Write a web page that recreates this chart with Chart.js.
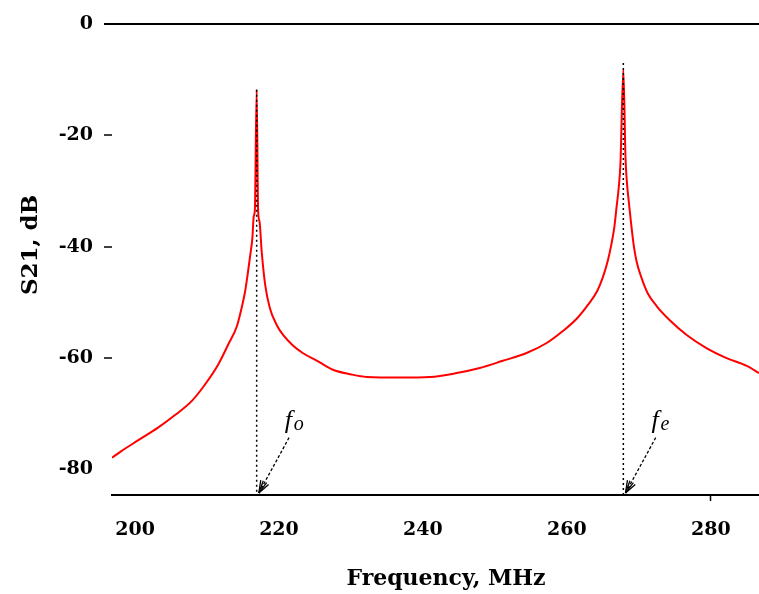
<!DOCTYPE html>
<html>
<head>
<meta charset="utf-8">
<script src="https://cdn.jsdelivr.net/npm/chart.js@4.4.0/dist/chart.umd.min.js"></script>
<style>
  html, body { margin: 0; padding: 0; background: #fff; }
  #wrap { width: 759px; height: 594px; position: relative; }
</style>
</head>
<body>
<div id="wrap"><canvas id="chart"></canvas></div>
<script>
// S21 transmission
const freqMHz = [196.8, 198.0, 200.4, 203.2, 205.6, 207.9, 209.7, 211.5, 212.9, 214.2,
    214.9, 215.3, 215.7, 216.0, 216.3, 216.5, 216.65, 216.9, 217.1, 217.3,
    217.6, 218.1, 218.75, 219.7, 220.6, 221.9, 223.3, 225.3, 227.5, 229.9,
    232.2, 236.8, 241.0, 244.7, 247.9, 251.1, 254.4, 257.2, 259.4, 261.4,
    262.9, 264.2, 265.0, 265.7, 266.2, 266.6, 266.9, 267.2, 267.45, 267.85,
    268.15, 268.35, 268.6, 268.9, 269.3, 269.7, 270.4, 271.25, 272.5, 274.3,
    276.7, 279.4, 282.2, 285.0, 286.7];
const s21dB = [-77.9, -76.8, -74.8, -72.5, -70.2, -67.7, -64.8, -61.3, -57.7, -54.1,
    -50.5, -48.0, -44.5, -41.6, -38.5, -34.5, -33.5, -11.8, -33.5, -35.5,
    -40.9, -47.0, -51.1, -54.1, -55.9, -57.7, -59.1, -60.5, -62.1, -62.9,
    -63.4, -63.5, -63.4, -62.7, -61.8, -60.5, -59.1, -57.3, -55.2, -52.9,
    -50.5, -48.0, -45.5, -42.5, -39.5, -36.5, -33.0, -29.5, -25.0, -8.2,
    -24.0, -28.5, -31.8, -35.5, -39.8, -42.7, -45.7, -48.4, -50.7, -53.2,
    -55.9, -58.2, -60.0, -61.4, -62.7];

const xTicks = [200, 220, 240, 260, 280];
const yTicks = [0, -20, -40, -60, -80];

// odd / even mode resonances
const resFreqs = [216.9, 267.85];
const resTops = [-11.8, -7.0];
const resLabels = ["o", "e"];

const tickFont = { family: "'DejaVu Serif'", size: 19, weight: "bold" };

const markers = {
    id: "markers",
    afterDatasetsDraw(chart) {
        const { ctx, chartArea, scales: { x, y } } = chart;
        ctx.save();
        resFreqs.forEach((f, i) => {
            const px = x.getPixelForValue(f);
            // dotted drop line
            ctx.strokeStyle = "#000";
            ctx.lineWidth = 1.5;
            ctx.setLineDash([2, 3]);
            ctx.beginPath();
            ctx.moveTo(px, y.getPixelForValue(resTops[i]));
            ctx.lineTo(px, chartArea.bottom);
            ctx.stroke();

            // arrow from label down to the axis
            const x0 = x.getPixelForValue(f + 4.5), y0 = y.getPixelForValue(-74.3);
            const x1 = x.getPixelForValue(f + 0.3), y1 = chartArea.bottom - 2;
            ctx.setLineDash([3, 2]);
            ctx.lineWidth = 1.3;
            ctx.beginPath();
            ctx.moveTo(x0, y0);
            ctx.lineTo(x1, y1);
            ctx.stroke();
            ctx.setLineDash([]);
            const ang = Math.atan2(y1 - y0, x1 - x0);
            [-0.35, -0.15, 0.15, 0.35].forEach((d) => {
                ctx.beginPath();
                ctx.moveTo(x1, y1);
                ctx.lineTo(x1 - 13 * Math.cos(ang + d), y1 - 13 * Math.sin(ang + d));
                ctx.stroke();
            });

            // f_o / f_e label
            const lx = x.getPixelForValue(f + 3.9), ly = y.getPixelForValue(-72.9);
            ctx.fillStyle = "#000";
            ctx.textBaseline = "alphabetic";
            ctx.textAlign = "left";
            ctx.font = "italic 26px 'Liberation Serif'";
            ctx.fillText("f", lx, ly - 2);
            ctx.font = "italic 20px 'Liberation Serif'";
            ctx.fillText(resLabels[i], lx + 9, ly);
        });

        // axis titles
        ctx.fillStyle = "#000";
        ctx.font = "bold 22px 'DejaVu Serif'";
        ctx.textAlign = "center";
        ctx.textBaseline = "middle";
        ctx.fillText("Frequency, MHz", chartArea.left + 334, chartArea.bottom + 84);
        ctx.translate(31, chartArea.top + 221);
        ctx.rotate(-Math.PI / 2);
        ctx.font = "bold 23px 'DejaVu Serif'";
        ctx.fillText("S21, dB", 0, 0);
        ctx.restore();
    }
};

new Chart(document.getElementById("chart"), {
    type: "line",
    data: {
        datasets: [{
            data: freqMHz.map((f, i) => ({ x: f, y: s21dB[i] })),
            borderColor: "#ff0000",
            borderWidth: 2,
            borderJoinStyle: "round",
            cubicInterpolationMode: "monotone",
            pointRadius: 0,
            fill: false
        }]
    },
    options: {
        responsive: true,
        maintainAspectRatio: false,
        animation: false,
        layout: { padding: { top: 24, right: 0, left: 0, bottom: 0 } },
        plugins: { legend: { display: false }, tooltip: { enabled: false } },
        scales: {
            x: {
                type: "linear",
                min: 196.8,
                max: 286.7,
                afterBuildTicks: (s) => { s.ticks = xTicks.map((v) => ({ value: v })); },
                afterFit: (s) => { s.height = 99; },
                border: { color: "#000", width: 2 },
                grid: {
                    drawOnChartArea: false,
                    tickLength: 6,
                    tickWidth: 1.5,
                    tickColor: (c) => (c.tick && c.tick.value === 280 ? "#000" : "rgba(0,0,0,0)")
                },
                ticks: { font: tickFont, color: "#000", padding: 18, maxRotation: 0 }
            },
            y: {
                min: -84.6,
                max: 0,
                afterBuildTicks: (s) => { s.ticks = yTicks.map((v) => ({ value: v })); },
                afterFit: (s) => { s.width = 112; },
                border: { display: false },
                grid: {
                    color: (c) => (c.tick && c.tick.value === 0 ? "#000" : "rgba(0,0,0,0)"),
                    lineWidth: 2,
                    tickLength: 8,
                    tickWidth: (c) => (c.tick && c.tick.value === 0 ? 2 : 1.5),
                    tickColor: (c) => (c.tick && c.tick.value !== -80 ? "#000" : "rgba(0,0,0,0)")
                },
                ticks: { font: tickFont, color: "#000", padding: 11 }
            }
        }
    },
    plugins: [markers]
});
</script>
</body>
</html>
